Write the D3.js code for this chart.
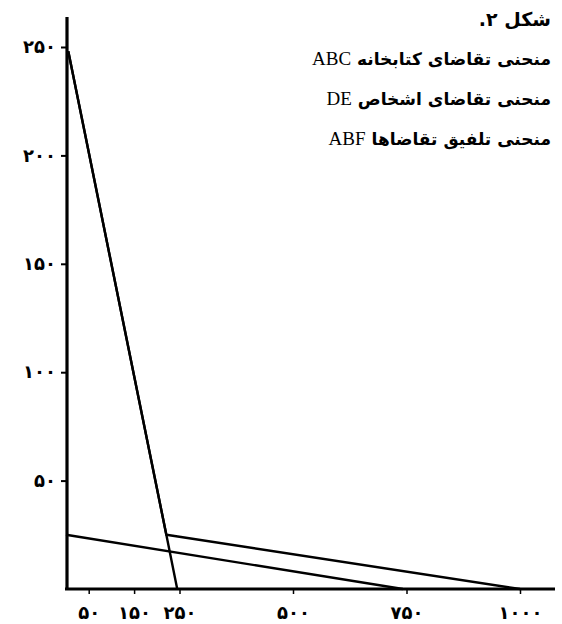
<!DOCTYPE html>
<html><head><meta charset="utf-8">
<script src="https://cdn.jsdelivr.net/npm/d3@7"></script>
<style>body{margin:0;background:#fff;} svg{display:block;}</style>
</head><body>
<script>
// ---- data ----
const xTickValues = [50, 150, 250, 500, 750, 1000];
const xTickLabels = ["۵۰", "۱۵۰", "۲۵۰", "۵۰۰", "۷۵۰", "۱۰۰۰"];
const yTickValues = [50, 100, 150, 200, 250];
const yTickLabels = ["۵۰", "۱۰۰", "۱۵۰", "۲۰۰", "۲۵۰"];
const curveABC = [[5, 248], [221, 25], [245, 0]];
const curveDE = [[0, 25], [742, 0]];
const curveABF = [[5, 248], [221, 25], [1000, 0]];
const titleText = "شکل ۲.";
const legendPersian = ["منحنی تقاضای کتابخانه", "منحنی تقاضای اشخاص", "منحنی تلفیق تقاضاها"];
const legendLatin = ["ABC", "DE", "ABF"];

const W = 562, H = 624;
const svg = d3.select("body").append("svg").attr("width", W).attr("height", H);

const x = d3.scaleLinear().domain([0, 1000]).range([66, 520]);
const y = d3.scaleLinear().domain([0, 250]).range([589, 47]);

const ink = "#000";
const faFont = "'DejaVu Sans', sans-serif";

// axes lines
svg.append("line").attr("x1", 67).attr("x2", 67).attr("y1", y(0) + 1).attr("y2", 17)
  .attr("stroke", ink).attr("stroke-width", 3.2);
svg.append("line").attr("x1", 65).attr("x2", 555).attr("y1", y(0)).attr("y2", y(0))
  .attr("stroke", ink).attr("stroke-width", 3);

// y axis via d3.axisLeft
const yAxis = d3.axisLeft(y).tickValues(yTickValues)
  .tickFormat((d, i) => yTickLabels[i]).tickSize(6).tickSizeOuter(0).tickPadding(5);
const gy = svg.append("g").attr("transform", "translate(67,0)").call(yAxis);
gy.select(".domain").remove();
gy.selectAll(".tick line").attr("stroke", ink).attr("stroke-width", 2);
gy.selectAll(".tick text").attr("font-family", faFont).attr("font-weight", "bold")
  .attr("font-size", 18).attr("fill", ink);

// x axis via d3.axisBottom
const xAxis = d3.axisBottom(x).tickValues(xTickValues)
  .tickFormat((d, i) => xTickLabels[i]).tickSize(5).tickSizeOuter(0).tickPadding(12);
const gx = svg.append("g").attr("transform", `translate(0,${y(0)})`).call(xAxis);
gx.select(".domain").remove();
gx.selectAll(".tick line").attr("stroke", ink).attr("stroke-width", 1.5);
gx.selectAll(".tick text").attr("font-family", faFont).attr("font-weight", "bold")
  .attr("font-size", 18).attr("fill", ink);

// curves
const line = d3.line().x(d => x(d[0])).y(d => y(d[1]));
[curveDE, curveABF, curveABC].forEach(c => {
  svg.append("path").attr("d", line(c)).attr("fill", "none")
    .attr("stroke", ink).attr("stroke-width", 2.4).attr("stroke-linejoin", "round");
});

// title & legend text (RTL)
const rightX = 551;
svg.append("text").attr("x", rightX).attr("y", 26)
  .attr("direction", "rtl").attr("text-anchor", "start")
  .attr("font-family", faFont).attr("font-weight", "bold").attr("font-size", 19)
  .attr("fill", ink).text(titleText);

legendPersian.forEach((t, i) => {
  const tx = svg.append("text").attr("x", rightX).attr("y", 65 + i * 40)
    .attr("direction", "rtl").attr("text-anchor", "start").attr("fill", ink);
  tx.append("tspan").attr("font-family", faFont).attr("font-weight", "bold")
    .attr("font-size", 17).text(t + " ");
  tx.append("tspan").attr("font-family", "'Liberation Serif', serif")
    .attr("font-size", 19).text(legendLatin[i]);
});
</script>
</body></html>
